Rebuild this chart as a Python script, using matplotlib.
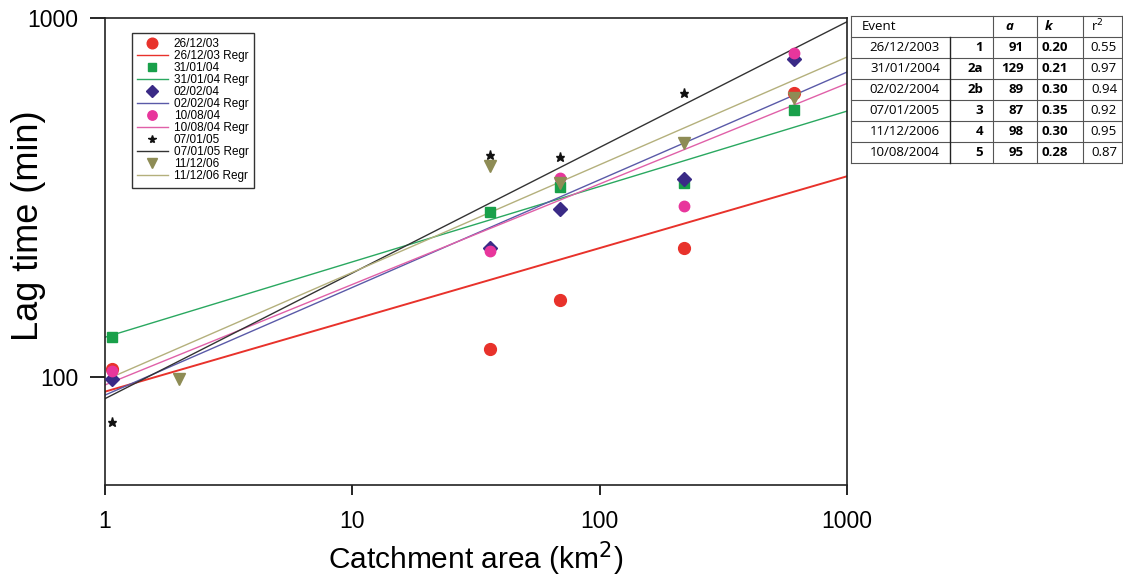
"""Lag time vs catchment area, with power-law regressions per event."""
import numpy as np
import matplotlib.pyplot as plt
from matplotlib.lines import Line2D

plt.rcParams['font.family'] = ['Liberation Sans', 'DejaVu Sans']

# observed lag times (min) per event, catchment area (km2)
area_261203 = [1.07, 36, 69, 220, 610]
lag_261203 = [105, 120, 164, 229, 617]
area_310104 = [1.07, 36, 69, 220, 610]
lag_310104 = [129, 289, 338, 347, 553]
area_020204 = [1.07, 36, 69, 220, 610]
lag_020204 = [99, 229, 293, 356, 768]
area_100804 = [1.07, 36, 69, 220, 610]
lag_100804 = [104, 224, 358, 299, 799]
area_070105 = [1.07, 36, 69, 220]
lag_070105 = [75, 414, 409, 617]
area_111206 = [2, 36, 69, 220, 610]
lag_111206 = [99, 386, 346, 448, 599]

# table values
tab_dates = ["26/12/2003", "31/01/2004", "02/02/2004", "07/01/2005", "11/12/2006", "10/08/2004"]
tab_ids = ["1", "2a", "2b", "3", "4", "5"]
tab_a = [91, 129, 89, 87, 98, 95]
tab_k = [0.20, 0.21, 0.30, 0.35, 0.30, 0.28]
tab_r2 = [0.55, 0.97, 0.94, 0.92, 0.95, 0.87]

# regression parameters (lag = a * A^k) in legend order
reg_a = [91, 129, 89, 95, 87, 98]
reg_k = [0.20, 0.21, 0.30, 0.28, 0.35, 0.30]

labels = ["26/12/03", "31/01/04", "02/02/04", "10/08/04", "07/01/05", "11/12/06"]
areas = [area_261203, area_310104, area_020204, area_100804, area_070105, area_111206]
lags = [lag_261203, lag_310104, lag_020204, lag_100804, lag_070105, lag_111206]

mk_col = ["#e8322b", "#19a04a", "#3a2a86", "#e8369c", "#111111", "#8e8c55"]
ln_col = ["#e8322b", "#2aa860", "#5a5aa8", "#e060a8", "#333333", "#b4b07c"]
markers = ["o", "s", "D", "o", "*", "v"]
msizes = [8.5, 7, 7, 7.5, 6.5, 8]

fig = plt.figure(figsize=(11.23, 5.79), dpi=100)
ax = fig.add_axes([105 / 1123, 1 - 485 / 579, 742 / 1123, 467 / 579])
ax.set_xscale("log")
ax.set_yscale("log")
ax.set_xlim(1, 1000)
ax.set_ylim(50, 1000)

xr = np.array(ax.get_xlim())
handles = []
for i, lab in enumerate(labels):
    ax.plot(areas[i], lags[i], linestyle="none", marker=markers[i], ms=msizes[i],
            color=mk_col[i], mec=mk_col[i], zorder=3)
    ax.plot(xr, reg_a[i] * xr ** reg_k[i], color=ln_col[i], lw=1.0 if i else 1.4, zorder=2)
    handles.append(Line2D([], [], linestyle="none", marker=markers[i], ms=msizes[i] * 0.9,
                          color=mk_col[i], label=lab))
    handles.append(Line2D([], [], color=ln_col[i], lw=1.0, label=lab + " Regr"))

ax.set_xticks([1, 10, 100, 1000])
ax.set_xticklabels(["1", "10", "100", "1000"])
ax.set_yticks([100, 1000])
ax.set_yticklabels(["100", "1000"])
ax.minorticks_off()
ax.tick_params(axis="x", which="major", direction="out", length=7, width=1.2,
               labelsize=16.5, pad=11)
ax.tick_params(axis="y", which="major", direction="out", length=11, width=1.2,
               labelsize=16.5, pad=8)
for s in ax.spines.values():
    s.set_linewidth(1.2)
    s.set_color("#222222")

ax.set_xlabel("Catchment area (km$^2$)", fontsize=21.5, va="bottom")
ax.set_ylabel("Lag time (min)", fontsize=26)
ax.xaxis.set_label_coords(0.5, -0.2)
ax.yaxis.set_label_coords(-0.08, 0.555)

leg = ax.legend(handles=handles, loc="upper left", bbox_to_anchor=(0.036, 0.968),
                fontsize=8.5, frameon=True, fancybox=False, edgecolor="black",
                handlelength=2.6, handletextpad=0.5, labelspacing=0.0,
                borderpad=0.45, borderaxespad=0)
leg.get_frame().set_linewidth(1.0)

# table on the right, pixel layout
tx = fig.add_axes([0, 0, 1, 1], facecolor="none")
tx.set_xlim(0, 1123)
tx.set_ylim(579, 0)
tx.axis("off")
top, bot = 16, 163
row_h = (bot - top) / 7
cols = [851, 950, 993, 1037, 1083, 1122]
lc = "#555555"
for r in range(8):
    yy = top + r * row_h
    tx.plot([cols[0], cols[-1]], [yy, yy], color=lc, lw=0.8)
for c in [cols[0], cols[2], cols[3], cols[4], cols[5]]:
    tx.plot([c, c], [top, bot], color=lc, lw=0.8)
tx.plot([cols[1], cols[1]], [top + row_h, bot], color="#222222", lw=1.0)

tf = ["Open Sans", "DejaVu Sans"]
fs = 9.5
ty = top + row_h / 2
tx.text(862, ty, "Event", fontsize=fs, family=tf, va="center", ha="left")
tx.text(1005, ty, "a", fontsize=fs, family=tf, va="center", ha="left",
        style="italic", weight="bold")
tx.text(1045, ty, "k", fontsize=fs, family=tf, va="center", ha="left",
        style="italic", weight="bold")
tx.text(1091, ty, "r$^2$", fontsize=fs, family=tf, va="center", ha="left")
for r in range(len(tab_dates)):
    yy = top + (r + 1.5) * row_h
    tx.text(940, yy, tab_dates[r], fontsize=fs, family=tf, va="center", ha="right")
    tx.text(983, yy, tab_ids[r], fontsize=fs, family=tf, va="center", ha="right", weight="bold")
    tx.text(1024, yy, str(tab_a[r]), fontsize=fs, family=tf, va="center", ha="right", weight="bold")
    tx.text(1068, yy, f"{tab_k[r]:.2f}", fontsize=fs, family=tf, va="center", ha="right", weight="bold")
    tx.text(1117, yy, f"{tab_r2[r]:.2f}", fontsize=fs, family=tf, va="center", ha="right")

fig.savefig("out.png", dpi=100)
